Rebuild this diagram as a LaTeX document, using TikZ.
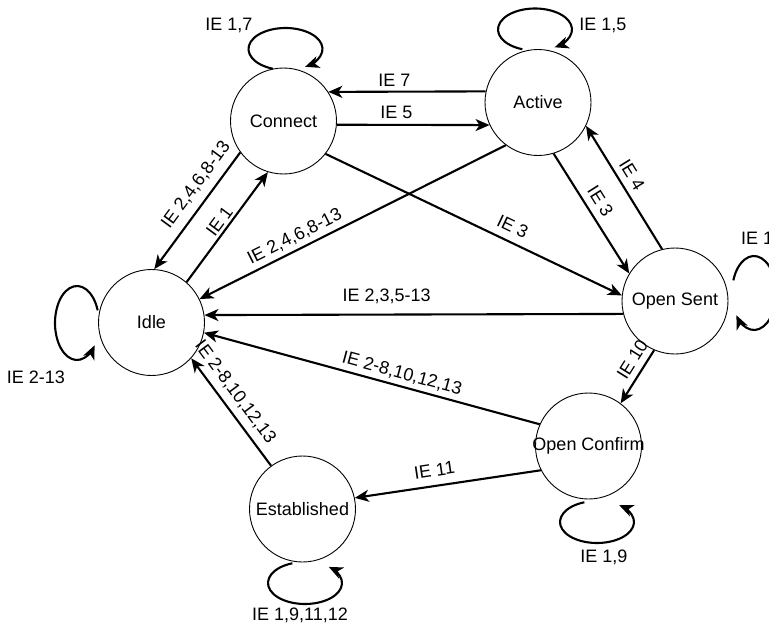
\documentclass[tikz,border=0pt]{standalone}
\usepackage{fontspec}
\setmainfont{Liberation Sans}
\usetikzlibrary{arrows.meta,calc}

\begin{document}
\begin{tikzpicture}[
  x=1pt, y=-1pt,
  state/.style={circle, draw, line width=0.9pt, minimum size=106pt, inner sep=0pt},
  txt/.style={font=\fontsize{18}{21}\selectfont, inner sep=0pt},
  tip/.style={-{Stealth[length=14pt,width=12pt,inset=4pt]}},
  arr/.style={line width=2.1pt, tip},
  loopline/.style={line width=2.1pt, tip},
  lbl/.style={txt, sloped, above, inner sep=#1},
  lbl/.default=5pt,
]
\useasboundingbox (0,0) rectangle (769,626);

% states
\node[state, label={[txt]center:Connect}]      (Connect) at (283.5,121) {};
\node[state, label={[txt]center:Active}]       (Active)  at (538,102.5) {};
\node[state, label={[txt]center:Idle}]         (Idle)    at (151.5,322.5) {};
\node[state, label={[txt]center:Open Sent}]    (OSent)   at (675,301) {};
\node[state, label={[txt]center:Open Confirm}] (OConf)   at (588.5,446) {};
\node[state, label={[txt]center:Established}]  (Estab)   at (302.5,509) {};

% self loops
\draw[loopline] ($(Connect)+(2,-72)+(110:37 and 21)$)
  arc[start angle=110, end angle=418, x radius=37, y radius=21];
\draw[loopline] ($(Active)+(-3,-73)+(110:37 and 21)$)
  arc[start angle=110, end angle=418, x radius=37, y radius=21];
\draw[loopline] ($(Idle)+(-74.5,0.5)+(-20:22 and 37)$)
  arc[start angle=-20, end angle=-323, x radius=22, y radius=37];
\draw[loopline] ($(OSent)+(79,-8)+(200:22 and 37)$)
  arc[start angle=200, end angle=503, x radius=22, y radius=37];
\draw[loopline] ($(OConf)+(8.5,76)+(-110:37 and 21)$)
  arc[start angle=-110, end angle=-413, x radius=37, y radius=21];
\draw[loopline] ($(Estab)+(2.5,74)+(-110:37 and 21)$)
  arc[start angle=-110, end angle=-410, x radius=37, y radius=21];

% loop labels
\node[txt] (l17)   at (229,25)  {IE 1,7};
\node[txt] (l15)   at (603,25)  {IE 1,5};
\node[txt] (l213)  at (36,377)  {IE 2-13};
\node[txt, anchor=west] (l1os) at (741,238) {IE 1};
\node[txt] (l19)   at (604,557) {IE 1,9};
\node[txt] (l1912) at (300,615) {IE 1,9,11,12};

% transitions
\draw[arr] (Active.168.5) -- node[lbl=4.3pt, pos=0.58] (e7) {IE 7} (Connect.33);
\draw[arr] (Connect.-4) -- node[lbl=5.2pt, pos=0.39] (e5) {IE 5} (Active.-155);
\draw[arr] (Connect.-144) -- node[lbl=8pt, pos=0.36] (eci) {IE 2,4,6,8-13} (Idle.87);
\draw[arr] (Idle.49) -- node[lbl=2.5pt, pos=0.5] (e1) {IE 1} (Connect.-107);
\draw[arr] (Active.-127.5) -- node[lbl=4.5pt, pos=0.67] (eai) {IE 2,4,6,8-13} (Idle.26.6);
\draw[arr] (Connect.-38) -- node[lbl=7.5pt, pos=0.61] (eco) {IE 3} (OSent.174.6);
\draw[arr] (Active.-73) -- node[lbl=6.8pt, pos=0.46] (eao) {IE 3} (OSent.149);
\draw[arr] (OSent.104.6) -- node[lbl=6.2pt, pos=0.545] (e4) {IE 4} (Active.-26.6);
\draw[arr] (OSent.194.2) -- node[lbl=9.5pt, pos=0.565] (eoi) {IE 2,3,5-13} (Idle.8.6);
\draw[arr] (OSent.-113.7) -- node[lbl=6pt, pos=0.31] (e10) {IE 10} (OConf.53.5);
\draw[arr] (OConf.156.5) -- node[lbl=4pt, pos=0.42] (eci2) {IE 2-8,10,12,13} (Idle.-11.3);
\draw[arr] (OConf.-153) -- node[lbl=8.3pt, pos=0.56] (e11) {IE 11} (Estab.12);
\draw[arr] (Estab.126) -- node[lbl=6.5pt, pos=0.6] (eei) {IE 2-8,10,12,13} (Idle.-42.8);
\end{tikzpicture}
\end{document}
